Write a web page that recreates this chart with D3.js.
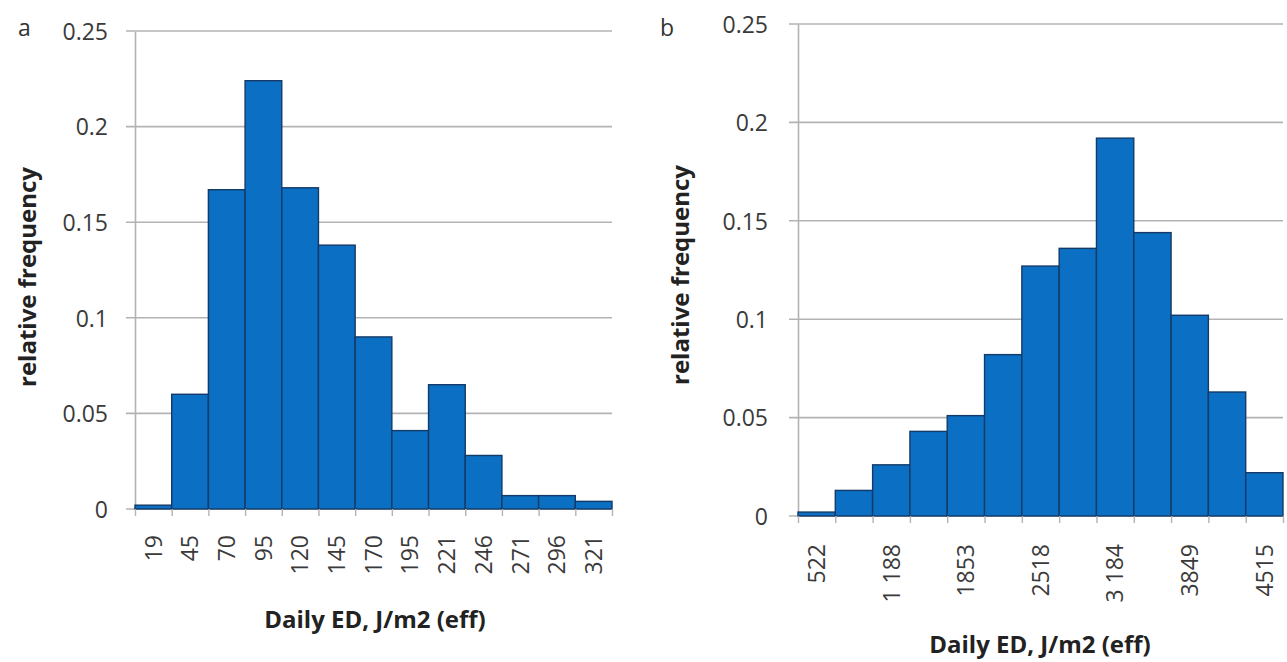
<!DOCTYPE html>
<html>
<head>
<meta charset="utf-8">
<script src="https://cdn.jsdelivr.net/npm/d3@7"></script>
<style>
  html, body { margin: 0; padding: 0; background: #ffffff; }
  svg { display: block; }
  text { font-family: "Open Sans", "Liberation Sans", sans-serif; }
</style>
</head>
<body>
<svg id="chart" width="1287" height="662"></svg>
<script>
// ---------- data ----------
const binsA   = ["19","45","70","95","120","145","170","195","221","246","271","296","321"];
const valuesA = [0.002,0.060,0.167,0.224,0.168,0.138,0.090,0.041,0.065,0.028,0.007,0.007,0.004];

const binIndexB = [0,1,2,3,4,5,6,7,8,9,10,11,12];
const tickLabelsB = ["522","","1 188","","1853","","2518","","3 184","","3849","","4515"];
const valuesB = [0.002,0.013,0.026,0.043,0.051,0.082,0.127,0.136,0.192,0.144,0.102,0.063,0.022];

const yTicks = [0,0.05,0.1,0.15,0.2,0.25];
const yTickLabels = ["0","0.05","0.1","0.15","0.2","0.25"];
const yTitle = "relative frequency";
const xTitle = "Daily ED, J/m2 (eff)";

// ---------- drawing ----------
const svg = d3.select("#chart");
const gridColor = "#b3b3b3";
const barFill = "#0b6fc3";
const barStroke = "#143a68";
const tickFont = 23;
const titleFont = 24;

function drawPanel(cfg) {
  const g = svg.append("g");
  const n = cfg.domain.length;
  const x = d3.scaleBand().domain(cfg.domain).range([cfg.left, cfg.right]).paddingInner(0).paddingOuter(0);
  const xEdge = d3.scaleLinear().domain([0, n]).range([cfg.left, cfg.right]);
  const y = d3.scaleLinear().domain([0, 0.25]).range([cfg.bottom, cfg.top]);

  // grid lines
  g.append("g").selectAll("line").data(yTicks).join("line")
    .attr("x1", cfg.left - 9).attr("x2", cfg.right)
    .attr("y1", d => y(d)).attr("y2", d => y(d))
    .attr("stroke", gridColor).attr("stroke-width", 1.6);

  // y axis
  const ya = g.append("g").attr("transform", `translate(${cfg.left},0)`)
    .call(d3.axisLeft(y).tickValues(yTicks).tickSize(0).tickPadding(cfg.yPad)
      .tickFormat((d, i) => yTickLabels[i]));
  ya.select(".domain").attr("stroke", gridColor).attr("stroke-width", 1.6);
  ya.selectAll("text").attr("font-size", tickFont).attr("fill", "#3a3a3a").attr("dy", "0.36em");

  // bars
  g.append("g").selectAll("rect").data(cfg.values).join("rect")
    .attr("x", (d, i) => x(cfg.domain[i]))
    .attr("width", x.bandwidth())
    .attr("y", d => y(d))
    .attr("height", d => y(0) - y(d))
    .attr("fill", barFill)
    .attr("stroke", barStroke)
    .attr("stroke-width", 1.4);

  // x axis edge ticks
  const xe = g.append("g").attr("transform", `translate(0,${cfg.bottom})`)
    .call(d3.axisBottom(xEdge).tickValues(d3.range(n + 1)).tickSize(7).tickFormat(""));
  xe.select(".domain").remove();
  xe.selectAll("line").attr("stroke", gridColor).attr("stroke-width", 1.4);

  // x tick labels (rotated)
  const xa = g.append("g").attr("transform", `translate(0,${cfg.bottom})`)
    .call(d3.axisBottom(x).tickSize(0).tickFormat((d, i) => cfg.labels[i]));
  xa.select(".domain").remove();
  xa.selectAll("text")
    .attr("font-size", tickFont).attr("fill", "#3a3a3a")
    .attr("text-anchor", "end")
    .attr("transform", `translate(0,${cfg.labelGap}) rotate(-90)`)
    .attr("x", 0).attr("y", 0).attr("dy", "0.36em");

  // axis titles
  g.append("text")
    .attr("x", cfg.xTitleX).attr("y", cfg.xTitleY)
    .attr("text-anchor", "middle").attr("font-size", titleFont).attr("font-weight", 700)
    .attr("fill", "#222").text(xTitle);
  g.append("text")
    .attr("transform", `translate(${cfg.yTitleX},${cfg.yTitleY}) rotate(-90)`)
    .attr("text-anchor", "middle").attr("font-size", titleFont).attr("font-weight", 700)
    .attr("fill", "#222").attr("dy", "0.35em").text(yTitle);

  // panel letter
  g.append("text").attr("x", cfg.letterX).attr("y", cfg.letterY)
    .attr("font-size", 23).attr("fill", "#333").text(cfg.letter);
}

drawPanel({
  domain: binsA, labels: binsA, values: valuesA,
  left: 135, right: 612, top: 31, bottom: 509,
  yPad: 27, labelGap: 26, xTitleX: 375, xTitleY: 628, yTitleX: 28, yTitleY: 277,
  letter: "a", letterX: 18, letterY: 36
});

drawPanel({
  domain: binIndexB, labels: tickLabelsB, values: valuesB,
  left: 798, right: 1283, top: 24, bottom: 516,
  yPad: 30, labelGap: 28, xTitleX: 1040, xTitleY: 653, yTitleX: 681, yTitleY: 275,
  letter: "b", letterX: 660, letterY: 36
});
</script>
</body>
</html>
